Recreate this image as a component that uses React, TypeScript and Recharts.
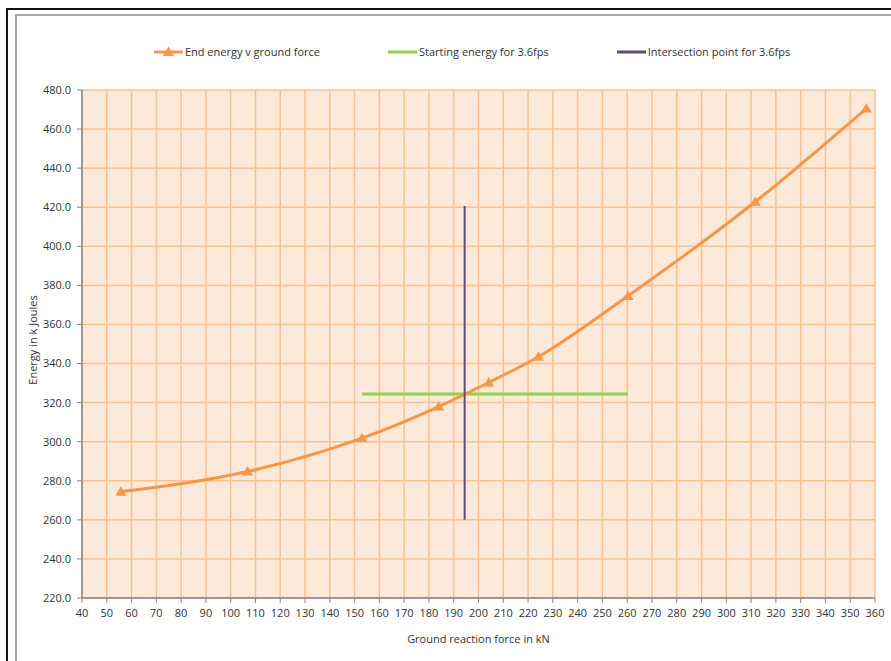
import React from 'react';
import { LineChart, Line, XAxis, YAxis, CartesianGrid } from 'recharts';

// Measured end energy against ground reaction force
const forceKN = [55.7, 106.8, 153.0, 184.0, 204.1, 224.2, 260.3, 311.7, 356.5];
const endEnergyKJ = [274.4, 284.7, 301.8, 318.0, 330.3, 343.5, 374.6, 422.8, 470.5];

// Horizontal reference: starting energy at 3.6 fps
const startForceKN = [153.0, 260.3];
const startEnergyKJ = [324.4, 324.4];

// Vertical marker through the intersection point
const intersectForceKN = [194.4, 194.4];
const intersectEnergyKJ = [420.6, 260.0];

const xTicks = [40, 50, 60, 70, 80, 90, 100, 110, 120, 130, 140, 150, 160, 170, 180, 190, 200, 210, 220, 230, 240, 250, 260, 270, 280, 290, 300, 310, 320, 330, 340, 350, 360];
const yTicks = [220, 240, 260, 280, 300, 320, 340, 360, 380, 400, 420, 440, 460, 480];

const seriesNames = ['End energy v ground force', 'Starting energy for 3.6fps', 'Intersection point for 3.6fps'];

const ORANGE = '#F79646';
const GREEN = '#92D050';
const PURPLE = '#604A7B';
const FONT = "'Open Sans', 'Liberation Sans', Arial, sans-serif";
const TEXT = '#333333';

const zip = (xs: number[], ys: number[]) => xs.map((x, i) => ({ x, y: ys[i] }));

const endData = zip(forceKN, endEnergyKJ);
const startData = zip(startForceKN, startEnergyKJ);
const intersectData = zip(intersectForceKN, intersectEnergyKJ);

const Triangle = (props: any) => {
  const { cx, cy, index } = props;
  if (cx == null || cy == null) return null;
  return (
    <path
      key={`tri-${index}`}
      d={`M${cx},${cy - 5.5} L${cx + 5.5},${cy + 4} L${cx - 5.5},${cy + 4} Z`}
      fill={ORANGE}
    />
  );
};

const LegendSwatch = ({ color, marker }: { color: string; marker?: boolean }) => (
  <svg width={29} height={12} style={{ display: 'block', marginRight: 2 }}>
    <line x1={0} y1={6} x2={29} y2={6} stroke={color} strokeWidth={3} />
    {marker && <path d="M14.5,0.5 L20,10 L9,10 Z" fill={color} />}
  </svg>
);

const legendColors = [ORANGE, GREEN, PURPLE];

export default function App() {
  return (
    <div
      style={{
        position: 'absolute',
        left: 0,
        top: 0,
        width: 891,
        height: 661,
        overflow: 'hidden',
        background: '#ffffff',
        fontFamily: FONT,
      }}
    >
      {/* outer dark frame and inner grey chart-area border */}
      <div style={{ position: 'absolute', left: 6, top: 8, width: 1000, height: 1000, border: '2px solid #111' }} />
      <div style={{ position: 'absolute', left: 15, top: 14, width: 1000, height: 1000, border: '2px solid #A6A6A6' }} />

      <div style={{ position: 'absolute', left: 0, top: 0 }}>
        <LineChart width={891} height={661} margin={{ top: 90, right: 16, bottom: 33, left: 22 }}>
          <CartesianGrid
            fill="#FDE9D9"
            fillOpacity={1}
            stroke="#FAC090"
            strokeWidth={1.5}
            horizontal
            vertical
          />
          <XAxis
            type="number"
            dataKey="x"
            domain={[40, 360]}
            ticks={xTicks}
            interval={0}
            height={30}
            allowDataOverflow
            tickSize={5}
            tickMargin={6}
            axisLine={{ stroke: '#868686', strokeWidth: 1.5 }}
            tickLine={{ stroke: '#868686', strokeWidth: 1 }}
            tick={{ fill: TEXT, fontSize: 11, fontFamily: FONT }}
            label={{
              content: (p: any) => {
                const vb = p.viewBox || {};
                return (
                  <text
                    x={vb.x + vb.width / 2}
                    y={vb.y + 40}
                    textAnchor="middle"
                    dominantBaseline="central"
                    fill={TEXT}
                    fontSize={11}
                    fontFamily={FONT}
                  >
                    Ground reaction force in kN
                  </text>
                );
              },
            }}
          />
          <YAxis
            type="number"
            domain={[220, 480]}
            ticks={yTicks}
            interval={0}
            width={60}
            allowDataOverflow
            tickSize={5}
            tickMargin={6}
            tickFormatter={(v: number) => v.toFixed(1)}
            axisLine={{ stroke: '#868686', strokeWidth: 1.5 }}
            tickLine={{ stroke: '#868686', strokeWidth: 1 }}
            tick={{ fill: TEXT, fontSize: 11, fontFamily: FONT }}
            label={{
              content: (p: any) => {
                const vb = p.viewBox || {};
                const cx = vb.x + 10;
                const cy = vb.y + vb.height / 2 - 4;
                return (
                  <text
                    x={cx}
                    y={cy}
                    transform={`rotate(-90, ${cx}, ${cy})`}
                    textAnchor="middle"
                    dominantBaseline="central"
                    fill={TEXT}
                    fontSize={11}
                    fontFamily={FONT}
                  >
                    Energy in k Joules
                  </text>
                );
              },
            }}
          />
          <Line
            data={startData}
            dataKey="y"
            name={seriesNames[1]}
            type="linear"
            stroke={GREEN}
            strokeWidth={3}
            dot={false}
            activeDot={false}
            isAnimationActive={false}
          />
          <Line
            data={endData}
            dataKey="y"
            name={seriesNames[0]}
            type="monotone"
            stroke={ORANGE}
            strokeWidth={3}
            dot={Triangle}
            activeDot={false}
            isAnimationActive={false}
          />
          <Line
            data={intersectData}
            dataKey="y"
            name={seriesNames[2]}
            type="linear"
            stroke={PURPLE}
            strokeWidth={2}
            dot={false}
            activeDot={false}
            isAnimationActive={false}
          />
        </LineChart>
      </div>

      {/* legend row */}
      <div
        style={{
          position: 'absolute',
          left: 0,
          top: 45,
          width: 944,
          display: 'flex',
          justifyContent: 'center',
          alignItems: 'center',
          gap: 68,
          fontSize: 11,
          color: TEXT,
          lineHeight: '14px',
          whiteSpace: 'nowrap',
        }}
      >
        {seriesNames.map((name, i) => (
          <div key={name} style={{ display: 'flex', alignItems: 'center' }}>
            <LegendSwatch color={legendColors[i]} marker={i === 0} />
            <span>{name}</span>
          </div>
        ))}
      </div>
    </div>
  );
}
